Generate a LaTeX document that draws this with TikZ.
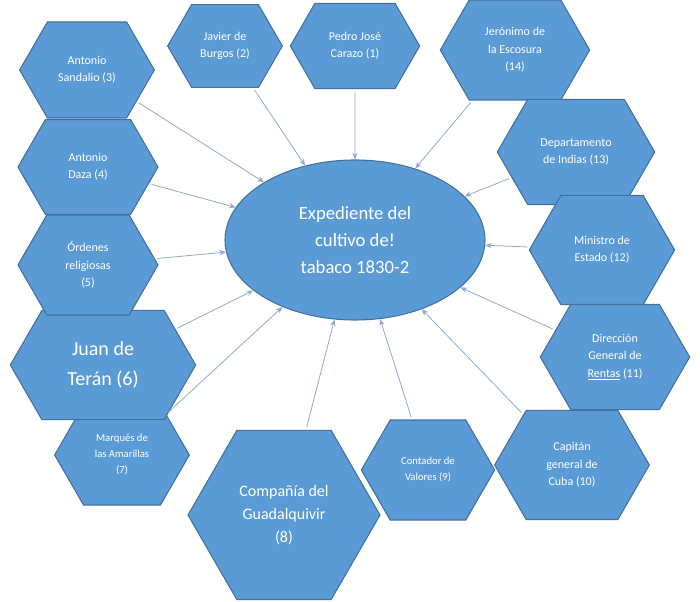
\documentclass[tikz,border=0pt]{standalone}
\usepackage{fontspec}
\setmainfont{Carlito}
\usetikzlibrary{positioning, arrows.meta, shapes.symbols, shapes.geometric}
\definecolor{hexfill}{HTML}{5B9BD5}
\definecolor{hexline}{HTML}{41719C}
\definecolor{linkcol}{HTML}{8FAACC}
\begin{document}
\begin{tikzpicture}[
    x=0.75pt, y=-0.75pt,
    hexa/.style={signal, signal to=west and east, signal pointer angle=120, draw=hexline, fill=hexfill, line width=0.8pt, text=white, align=center, inner sep=0pt, font=\fontsize{9}{13}\selectfont},
    centre/.style={ellipse, draw=hexline, fill=hexfill, line width=0.8pt, text=white, align=center, minimum width=195pt, minimum height=120pt, font=\fontsize{14}{20}\selectfont},
    link/.style={-{Stealth[length=5pt, width=4pt]}, draw=linkcol, line width=0.6pt, shorten <=2pt}
]
\useasboundingbox (0,0) rectangle (700,602);

% Central topic
\node[centre] (exp) at (355,240) {Expediente del\\cultivo de!\\tabaco 1830-2};

% Hexagons around the centre
\node[hexa, minimum width=101pt, minimum height=72pt] (n3) at (87,70) {Antonio\\Sandalio (3)};
\node[hexa, minimum width=86pt, minimum height=62pt] (n2) at (225,46) {Javier de\\Burgos (2)};
\node[hexa, minimum width=97pt, minimum height=64pt] (n1) at (355,46) {Pedro José\\Carazo (1)};
\node[hexa, minimum width=112pt, minimum height=75pt] (n14) at (515,50) {Jerónimo de\\la Escosura\\(14)};
\node[hexa, minimum width=118pt, minimum height=79pt] (n13) at (576,152) {Departamento\\de Indias (13)};
\node[hexa, minimum width=109pt, minimum height=82pt] (n12) at (602,250) {Ministro de\\Estado (12)};
\node[hexa, minimum width=112pt, minimum height=79pt] (n11) at (615,357) {Dirección\\General de\\\underline{Rentas} (11)};
\node[hexa, minimum width=116pt, minimum height=82pt] (n10) at (572,465) {Capitán\\general de\\Cuba (10)};
\node[hexa, minimum width=100pt, minimum height=75pt, font=\fontsize{8}{12}\selectfont] (n9) at (428,470) {Contador de\\Valores (9)};
\node[hexa, minimum width=144pt, minimum height=127pt, font=\fontsize{12}{17}\selectfont] (n8) at (284,515) {Compañía del\\Guadalquivir\\(8)};
\node[hexa, minimum width=101pt, minimum height=75pt, font=\fontsize{8}{12}\selectfont] (n7) at (122,455) {Marqués de\\las Amarillas\\(7)};
\node[hexa, minimum width=139pt, minimum height=82pt, font=\fontsize{15}{22}\selectfont] (n6) at (103,365) {Juan de\\Terán (6)};
\node[hexa, minimum width=105pt, minimum height=75pt] (n5) at (88,265) {Órdenes\\religiosas\\(5)};
\node[hexa, minimum width=105pt, minimum height=71pt] (n4) at (88,167) {Antonio\\Daza (4)};

% Connectors towards the centre
\foreach \n in {1,2,...,14}{
  \draw[link] (n\n) -- (exp);
}

\end{tikzpicture}
\end{document}
